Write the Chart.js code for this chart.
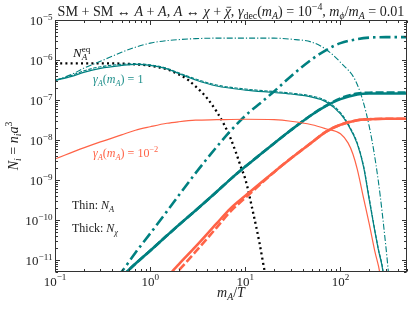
<!DOCTYPE html>
<html>
<head>
<meta charset="utf-8">
<script src="https://cdn.jsdelivr.net/npm/chart.js@4"></script>
<style>
  html, body { margin: 0; padding: 0; background: #fff; }
  canvas { display: block; }
</style>
</head>
<body>
<canvas id="myChart" width="413" height="310"></canvas>
<script>
// Axis ranges and ticks
const xRange = [0.1, 500];
const yRange = [5e-12, 1e-5];
const xMajor = [0.1, 1, 10, 100];
const xMajorExp = ['−1', '0', '1', '2'];
const yMajor = [1e-5, 1e-6, 1e-7, 1e-8, 1e-9, 1e-10, 1e-11];
const yMajorExp = ['−5', '−6', '−7', '−8', '−9', '−10', '−11'];

// N_A^eq (black dotted)
const xEq = [0.1, 0.3, 0.7, 1, 1.5, 2, 2.5, 3, 3.5, 4, 5, 6, 7, 8, 9, 10, 12, 14, 16, 17];
const yEq = [8.26e-7, 8.26e-7, 7.8e-7, 7.15e-7, 5.83e-7, 4.37e-7, 3.17e-7, 2.18e-7, 1.54e-7, 1.08e-7,
  5.1e-8, 2.4e-8, 1.1e-8, 4.73e-9, 2.1e-9, 1.05e-9, 1.64e-10, 2.87e-11, 5.05e-12, 2.5e-12];

// gamma_A = 1, thin (N_A)
const xA1 = [0.1, 0.15, 0.2, 0.3, 0.5, 0.7, 1, 1.5, 2, 3, 5, 10, 20, 30, 50, 70, 100, 120, 150, 175, 200, 230, 250, 280, 300];
const yA1Solid = [3.08e-7, 3.88e-7, 4.9e-7, 6.2e-7, 7.3e-7, 7.8e-7, 7.3e-7, 6.0e-7, 4.6e-7, 3.17e-7, 2.24e-7,
  1.77e-7, 1.54e-7, 1.41e-7, 1.18e-7, 9.1e-8, 4.5e-8, 2.4e-8, 8e-9, 2.1e-9, 3.3e-10, 5.1e-11, 1.8e-11, 5e-12, 1e-12];
const yA1Dash = [3.08e-7, 4.12e-7, 5.35e-7, 6.75e-7, 7.8e-7, 8.0e-7, 7.57e-7, 6.18e-7, 4.76e-7, 3.36e-7, 2.37e-7,
  1.88e-7, 1.63e-7, 1.49e-7, 1.25e-7, 9.66e-8, 4.82e-8, 2.55e-8, 8.45e-9, 2.23e-9, 3.69e-10, 5.43e-11, 1.91e-11, 5.3e-12, 1e-12];
const xA1DashDot = [0.1, 0.15, 0.2, 0.3, 0.5, 0.7, 1, 1.5, 2, 3, 5, 10, 20, 30, 50, 70, 100, 150, 200, 250, 300, 320, 340];
const yA1DashDot = [3.08e-7, 4.37e-7, 6.2e-7, 9.3e-7, 1.56e-6, 2.09e-6, 2.64e-6, 3.05e-6, 3.23e-6, 3.42e-6, 3.52e-6,
  3.52e-6, 3.52e-6, 3.32e-6, 2.79e-6, 1.86e-6, 8.7e-7, 2.44e-7, 2.26e-8, 9.3e-10, 2.15e-11, 4.5e-12, 1e-12];

// gamma_A = 1, thick (N_chi)
const xC1 = [0.5, 0.7, 1, 1.5, 2, 3, 5, 7, 10, 15, 20, 30, 50, 70, 100, 150, 200, 300, 500];
const yC1Solid = [3.8e-12, 8.0e-12, 1.7e-11, 4.07e-11, 7.5e-11, 1.73e-10, 5.07e-10, 1.05e-9, 2.16e-9, 4.73e-9,
  8.2e-9, 1.75e-8, 4.28e-8, 7.0e-8, 1.05e-7, 1.37e-7, 1.45e-7, 1.45e-7, 1.45e-7];
const yC1Dash = [3.8e-12, 8.0e-12, 1.7e-11, 4.07e-11, 7.5e-11, 1.73e-10, 5.07e-10, 1.05e-9, 2.16e-9, 4.73e-9,
  8.2e-9, 1.75e-8, 4.28e-8, 7.1e-8, 1.1e-7, 1.45e-7, 1.52e-7, 1.53e-7, 1.53e-7];
const xC1DashDot = [0.45, 0.5, 0.7, 1, 1.5, 2, 3, 5, 7, 10, 15, 20, 30, 50, 70, 100, 150, 200, 300, 500];
const yC1DashDot = [3.9e-12, 5.05e-12, 1.52e-11, 4.57e-11, 1.64e-10, 4.14e-10, 1.48e-9, 6.7e-9, 1.69e-8, 4.04e-8,
  9.1e-8, 1.63e-7, 3.88e-7, 1.04e-6, 1.75e-6, 2.64e-6, 3.32e-6, 3.62e-6, 3.73e-6, 3.73e-6];

// gamma_A = 1e-2, thin (N_A)
const xA2 = [0.1, 0.2, 0.3, 0.5, 0.7, 1, 1.5, 2, 3, 5, 10, 20, 30, 50, 70, 100, 120, 135, 150, 175, 200, 230, 260, 280];
const yA2 = [3.34e-9, 6.33e-9, 8.95e-9, 1.34e-8, 1.75e-8, 2.14e-8, 2.62e-8, 2.86e-8, 3.12e-8, 3.21e-8, 3.30e-8,
  3.21e-8, 2.94e-8, 2.40e-8, 1.91e-8, 1.43e-8, 8.45e-9, 4.47e-9, 1.87e-9, 3.48e-10, 8.2e-11, 1.61e-11, 4.5e-12, 1e-12];

// gamma_A = 1e-2, thick (N_chi)
const xC2 = [1.5, 1.7, 2, 3, 5, 7, 10, 15, 20, 30, 50, 70, 100, 150, 200, 300, 500];
const yC2Solid = [3.0e-12, 5.05e-12, 7.8e-12, 2.15e-11, 8.2e-11, 1.95e-10, 4.03e-10, 9.06e-10, 1.57e-9, 3.44e-9,
  8.7e-9, 1.6e-8, 2.40e-8, 3.12e-8, 3.30e-8, 3.40e-8, 3.40e-8];
const yC2Dash = [2.0e-12, 3.6e-12, 5.5e-12, 1.61e-11, 6.47e-11, 1.64e-10, 3.58e-10, 8.55e-10, 1.57e-9, 3.44e-9,
  8.7e-9, 1.6e-8, 2.40e-8, 3.12e-8, 3.30e-8, 3.40e-8, 3.40e-8];

const teal = '#008080';
const tomato = '#ff6347';
const SERIF = '"Liberation Serif", "DejaVu Serif", serif';

function pts(xs, ys) {
  return xs.map((x, i) => ({ x: x, y: ys[i] }));
}

function line(xs, ys, color, width, dash) {
  return {
    data: pts(xs, ys),
    borderColor: color,
    borderWidth: width,
    borderDash: dash,
    pointRadius: 0,
    fill: false,
    cubicInterpolationMode: 'monotone'
  };
}

// parts: [text, flags]  i = italic, u = superscript, d = subscript, k = do not advance, o = overbar
function drawMath(ctx, parts, x, y, size, align, color) {
  const items = parts.map(([t, f]) => {
    f = f || '';
    const s = (f.includes('u') || f.includes('d')) ? size * 0.7 : size;
    const font = (f.includes('i') ? 'italic ' : '') + s + 'px ' + SERIF;
    ctx.font = font;
    return { t, f, font, w: ctx.measureText(t).width };
  });
  const total = items.reduce((a, m) => a + (m.f.includes('k') ? 0 : m.w), 0);
  let cx = align === 'center' ? x - total / 2 : align === 'right' ? x - total : x;
  ctx.fillStyle = color;
  ctx.strokeStyle = color;
  ctx.textAlign = 'left';
  ctx.textBaseline = 'alphabetic';
  for (const m of items) {
    const dy = m.f.includes('u') ? -size * 0.42 : m.f.includes('d') ? size * 0.24 : 0;
    ctx.font = m.font;
    ctx.fillText(m.t, cx, y + dy);
    if (m.f.includes('o')) {
      ctx.lineWidth = 0.8;
      ctx.setLineDash([]);
      ctx.beginPath();
      ctx.moveTo(cx + m.w * 0.3, y - size * 0.62);
      ctx.lineTo(cx + m.w * 1.05, y - size * 0.62);
      ctx.stroke();
    }
    if (!m.f.includes('k')) cx += m.w;
  }
  return total;
}

const decor = {
  id: 'decor',
  afterDraw(chart) {
    const ctx = chart.ctx;
    const a = chart.chartArea;
    const xs = chart.scales.x, ys = chart.scales.y;
    const L = Math.round(a.left) + 0.5, R = Math.round(a.right) - 0.5;
    const T = Math.round(a.top) + 0.5, B = Math.round(a.bottom) - 0.5;
    ctx.save();
    ctx.strokeStyle = '#333';
    ctx.lineWidth = 1;
    ctx.setLineDash([]);
    ctx.strokeRect(L, T, R - L, B - T);

    // ticks, inward on all four sides
    ctx.beginPath();
    const xTick = (v, len) => {
      const p = Math.round(xs.getPixelForValue(v)) + 0.5;
      ctx.moveTo(p, B); ctx.lineTo(p, B - len);
      ctx.moveTo(p, T); ctx.lineTo(p, T + len);
    };
    const yTick = (v, len) => {
      const p = Math.round(ys.getPixelForValue(v)) + 0.5;
      ctx.moveTo(L, p); ctx.lineTo(L + len, p);
      ctx.moveTo(R, p); ctx.lineTo(R - len, p);
    };
    for (let e = -1; e <= 2; e++) {
      for (let k = 1; k <= 9; k++) {
        const v = k * Math.pow(10, e);
        if (v < xRange[0] || v > xRange[1]) continue;
        xTick(v, k === 1 ? 4.5 : 2.5);
      }
    }
    for (let e = -12; e <= -5; e++) {
      for (let k = 1; k <= 9; k++) {
        const v = k * Math.pow(10, e);
        if (v < yRange[0] * 0.999 || v > yRange[1] * 1.001) continue;
        yTick(v, k === 1 ? 4.5 : 2.5);
      }
    }
    ctx.stroke();

    // tick labels
    xMajor.forEach((v, i) => {
      drawMath(ctx, [['10', ''], [xMajorExp[i], 'u']], xs.getPixelForValue(v), B + 14, 13, 'center', '#222');
    });
    yMajor.forEach((v, i) => {
      drawMath(ctx, [['10', ''], [yMajorExp[i], 'u']], L - 3, ys.getPixelForValue(v) + 5, 13, 'right', '#222');
    });

    // axis titles
    drawMath(ctx, [['m', 'i'], ['A', 'id'], ['/', ''], ['T', 'i']], (L + R) / 2, 297, 14, 'center', '#222');
    ctx.save();
    ctx.translate(18, (T + B) / 2);
    ctx.rotate(-Math.PI / 2);
    drawMath(ctx, [['N', 'i'], ['i', 'id'], [' = ', ''], ['n', 'i'], ['i', 'id'], ['a', 'i'], ['3', 'u']], 0, 0, 14, 'center', '#222');
    ctx.restore();

    // title
    const title = [['SM + SM ↔ ', ''], ['A', 'i'], [' + ', ''], ['A', 'i'], [', ', ''], ['A', 'i'], [' ↔ ', ''],
      ['χ', 'i'], [' + ', ''], ['χ', 'io'], [', ', ''], ['γ', 'i'], ['dec', 'd'], ['(', ''], ['m', 'i'], ['A', 'id'],
      [') = 10', ''], ['−4', 'u'], [', ', ''], ['m', 'i'], ['ϕ', 'id'], ['/', ''], ['m', 'i'], ['A', 'id'], [' = 0.01', '']];
    ctx.globalAlpha = 0;
    const w = drawMath(ctx, title, 0, 0, 12, 'left', '#222');
    ctx.globalAlpha = 1;
    const ts = 12 * (R - L - 4) / w;
    drawMath(ctx, title, (L + R) / 2, 16, ts, 'center', '#222');

    // annotations
    drawMath(ctx, [['N', 'i'], ['eq', 'uk'], ['A', 'id']], 73, 57, 13, 'left', '#111');
    drawMath(ctx, [['γ', 'i'], ['A', 'id'], ['(', ''], ['m', 'i'], ['A', 'id'], [') = 1', '']], 93, 83, 12, 'left', '#20908c');
    drawMath(ctx, [['γ', 'i'], ['A', 'id'], ['(', ''], ['m', 'i'], ['A', 'id'], [') = 10', ''], ['−2', 'u']], 93, 157, 12, 'left', tomato);
    drawMath(ctx, [['Thin: ', ''], ['N', 'i'], ['A', 'id']], 72, 209, 12, 'left', '#222');
    drawMath(ctx, [['Thick: ', ''], ['N', 'i'], ['χ', 'id']], 72, 232, 12, 'left', '#222');
    ctx.restore();
  }
};

const ctx = document.getElementById('myChart').getContext('2d');
const chart = new Chart(ctx, {
  type: 'line',
  data: {
    datasets: [
      line(xA2, yA2, tomato, 1.2, []),
      line(xC2, yC2Dash, tomato, 2.6, [8, 3]),
      line(xC2, yC2Solid, tomato, 2.6, []),
      line(xA1, yA1Dash, teal, 1.1, [3.5, 1.5]),
      line(xA1, yA1Solid, teal, 1.2, []),
      line(xA1DashDot, yA1DashDot, teal, 1.1, [6, 2, 1.2, 2]),
      line(xC1, yC1Dash, teal, 2.6, [8, 3]),
      line(xC1, yC1Solid, teal, 2.6, []),
      line(xC1DashDot, yC1DashDot, teal, 2.6, [11, 4, 2.5, 4]),
      line(xEq, yEq, '#000', 2.3, [2, 3.2])
    ]
  },
  options: {
    responsive: false,
    animation: false,
    devicePixelRatio: 1,
    layout: { padding: { left: 55, right: 6, top: 20, bottom: 38 } },
    plugins: { legend: { display: false }, tooltip: { enabled: false } },
    scales: {
      x: { type: 'logarithmic', min: xRange[0], max: xRange[1], display: false },
      y: { type: 'logarithmic', min: yRange[0], max: yRange[1], display: false }
    }
  },
  plugins: [decor]
});
</script>
</body>
</html>
